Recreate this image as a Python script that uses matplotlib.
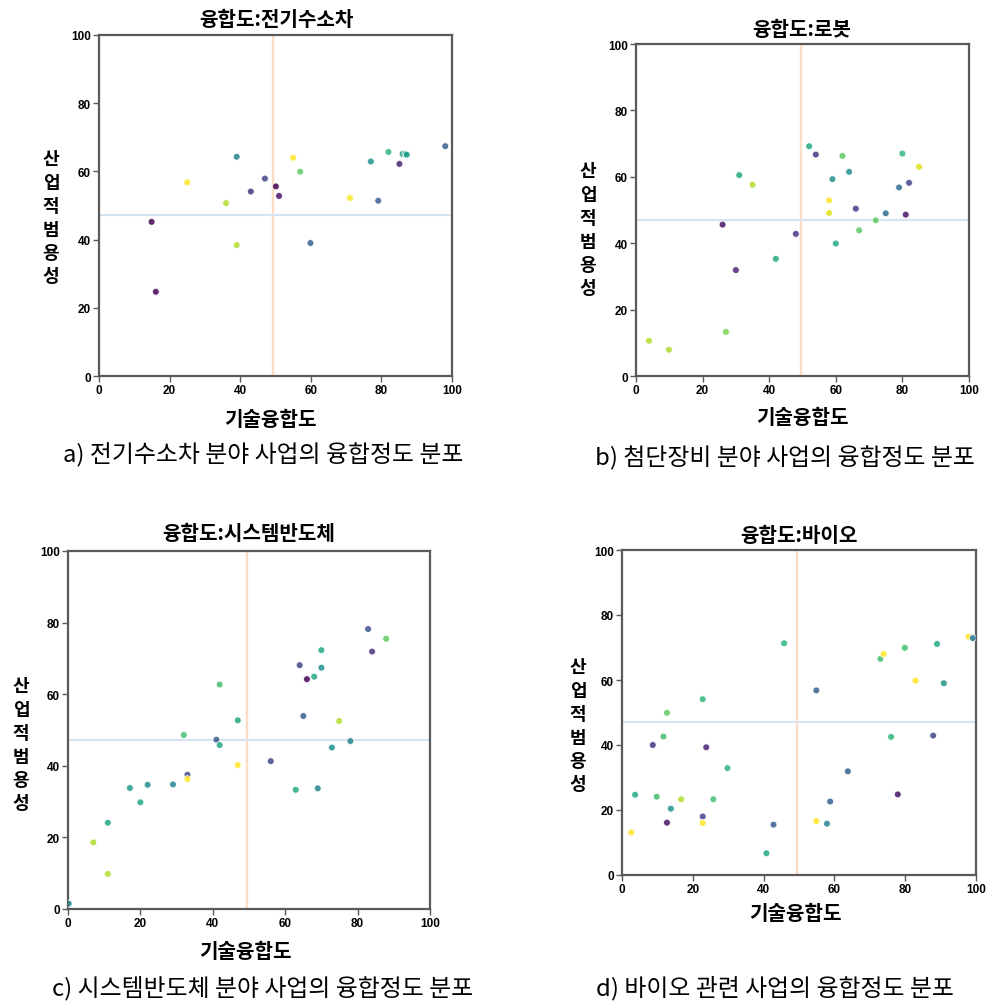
import numpy as np
import matplotlib
matplotlib.use("Agg")
from matplotlib import pyplot as plt

plt.rcParams['font.family'] = ['Noto Sans CJK KR', 'DejaVu Sans']

W, H = 993, 1004

# 데이터
a_x = [14.9, 16.1, 25.0, 36.0, 39.0, 39.0, 43.0, 47.0, 50.1, 51.0, 55.0, 57.0, 59.9, 71.1, 77.0, 79.1, 82.0, 85.1, 86.0, 86.8, 87.2, 98.1]
a_y = [45.2, 24.7, 56.8, 50.7, 64.3, 38.4, 54.1, 57.9, 55.6, 52.8, 64.0, 59.9, 39.0, 52.2, 62.9, 51.4, 65.7, 62.2, 65.1, 65.1, 64.9, 67.4]
a_c = [0.0, 0.0, 1.0, 0.88, 0.45, 0.88, 0.15, 0.2, 0.0, 0.05, 1.0, 0.75, 0.3, 1.0, 0.5, 0.3, 0.65, 0.1, 0.55, 0.6, 0.55, 0.3]

b_x = [3.9, 9.9, 26.0, 27.0, 30.0, 31.0, 35.0, 42.0, 48.0, 52.0, 54.0, 58.0, 58.0, 59.0, 60.0, 62.0, 64.0, 66.0, 67.0, 72.0, 75.0, 79.0, 80.0, 81.0, 82.0, 85.0]
b_y = [10.6, 7.9, 45.6, 13.3, 31.9, 60.5, 57.6, 35.3, 42.8, 69.2, 66.7, 52.9, 49.1, 59.3, 39.9, 66.3, 61.5, 50.4, 43.9, 46.9, 49.0, 56.8, 67.0, 48.6, 58.2, 63.0]
b_c = [0.88, 0.88, 0.05, 0.8, 0.1, 0.6, 0.88, 0.6, 0.15, 0.6, 0.15, 1.0, 0.95, 0.5, 0.6, 0.75, 0.5, 0.15, 0.75, 0.75, 0.35, 0.35, 0.65, 0.05, 0.2, 0.95]

c_x = [0.2, 7.0, 11.0, 11.0, 17.1, 20.0, 22.0, 29.0, 32.0, 33.0, 33.0, 41.0, 41.9, 41.9, 46.9, 46.9, 56.0, 62.9, 64.0, 65.0, 66.0, 68.0, 69.0, 70.0, 70.0, 72.9, 74.9, 78.0, 82.9, 84.0, 87.9]
c_y = [1.5, 18.6, 24.1, 9.8, 33.8, 29.8, 34.7, 34.8, 48.6, 37.5, 36.3, 47.3, 62.7, 45.8, 52.7, 40.2, 41.3, 33.3, 68.1, 53.9, 64.2, 64.9, 33.7, 72.3, 67.4, 45.1, 52.5, 46.9, 78.2, 71.9, 75.5]
c_c = [0.45, 0.88, 0.6, 0.88, 0.55, 0.6, 0.5, 0.45, 0.7, 0.2, 1.0, 0.3, 0.7, 0.6, 0.6, 1.0, 0.2, 0.6, 0.2, 0.3, 0.0, 0.6, 0.45, 0.6, 0.5, 0.5, 0.88, 0.45, 0.25, 0.15, 0.75]

d_x = [2.6, 3.7, 8.7, 9.8, 11.7, 12.7, 12.7, 13.8, 16.7, 22.8, 22.8, 22.8, 23.8, 25.8, 29.8, 40.8, 42.8, 45.8, 54.9, 54.9, 57.9, 58.8, 63.8, 73.0, 73.9, 76.0, 77.9, 79.9, 82.9, 87.9, 89.0, 90.9, 97.9, 99.1]
d_y = [13.1, 24.7, 40.0, 24.1, 42.6, 49.9, 16.1, 20.4, 23.3, 54.1, 18.0, 16.0, 39.3, 23.3, 32.9, 6.7, 15.5, 71.3, 56.8, 16.6, 15.8, 22.6, 31.9, 66.5, 68.0, 42.5, 24.8, 69.9, 59.8, 42.9, 71.1, 59.0, 73.3, 72.9]
d_c = [1.0, 0.6, 0.15, 0.7, 0.7, 0.75, 0.05, 0.5, 0.88, 0.65, 0.2, 1.0, 0.1, 0.7, 0.65, 0.6, 0.3, 0.65, 0.3, 1.0, 0.45, 0.3, 0.3, 0.7, 1.0, 0.65, 0.05, 0.7, 1.0, 0.2, 0.6, 0.5, 1.0, 0.4]

titles = ["융합도:전기수소차", "융합도:로봇", "융합도:시스템반도체", "융합도:바이오"]
captions = ["a) 전기수소차 분야 사업의 융합정도 분포",
            "b) 첨단장비 분야 사업의 융합정도 분포",
            "c) 시스템반도체 분야 사업의 융합정도 분포",
            "d) 바이오 관련 사업의 융합정도 분포"]
xlabel = "기술융합도"
ylabel = "산업적범용성"
x_mid = 49.4
y_mid = 47.1

# 레이아웃 (픽셀: left, right, top, bottom)
boxes = [(99, 452, 36, 377), (636, 969, 45, 377), (68, 430, 552, 910), (622, 976, 551, 876)]
title_pos = [(276, 19), (802, 29), (249, 534), (799, 536)]
xlab_pos = [(270, 420), (802, 418), (245, 952), (795, 914)]
ylab_pos = [(51, 160), (588, 172), (21, 687), (578, 668)]
cap_pos = [(263, 455), (785, 458), (263, 988), (775, 988)]

data = [(a_x, a_y, a_c), (b_x, b_y, b_c), (c_x, c_y, c_c), (d_x, d_y, d_c)]


def fx(x):
    return x / W


def fy(y):
    return 1 - y / H


fig = plt.figure(figsize=(W / 100, H / 100), dpi=100)

for i in range(4):
    l, r, t, b = boxes[i]
    ax = fig.add_axes([fx(l), fy(b), (r - l) / W, (b - t) / H])
    xs, ys, cs = data[i]
    ax.axvline(x_mid, color="#fddcc6", lw=1.7, zorder=1)
    ax.axhline(y_mid, color="#d4e4f2", lw=1.5, zorder=1)
    ax.scatter(xs, ys, c=cs, cmap="viridis", vmin=0, vmax=1, s=24,
               edgecolors="white", linewidths=0.6, alpha=0.85, zorder=3)
    ax.set_xlim(0, 100)
    ax.set_ylim(0, 100)
    ax.set_xticks([0, 20, 40, 60, 80, 100])
    ax.set_yticks([0, 20, 40, 60, 80, 100])
    for sp in ax.spines.values():
        sp.set_color("#5a5a5a")
        sp.set_linewidth(1.6)
    ax.tick_params(length=4, width=1, color="#5a5a5a", pad=2)
    for lab in ax.get_xticklabels() + ax.get_yticklabels():
        lab.set_fontfamily("Liberation Sans")
        lab.set_fontweight("bold")
        lab.set_fontsize(8.5)

    fig.text(fx(title_pos[i][0]), fy(title_pos[i][1]), titles[i], ha="center", va="center",
             fontsize=14.5, fontweight="bold")
    fig.text(fx(xlab_pos[i][0]), fy(xlab_pos[i][1]), xlabel, ha="center", va="center",
             fontsize=14.5, fontweight="bold")
    for k, ch in enumerate(ylabel):
        fig.text(fx(ylab_pos[i][0]), fy(ylab_pos[i][1] + k * 23.4), ch, ha="center", va="center",
                 fontsize=13, fontweight="bold")
    fig.text(fx(cap_pos[i][0]), fy(cap_pos[i][1]), captions[i], ha="center", va="center",
             fontsize=17.2)

fig.savefig("out.png", dpi=100)
